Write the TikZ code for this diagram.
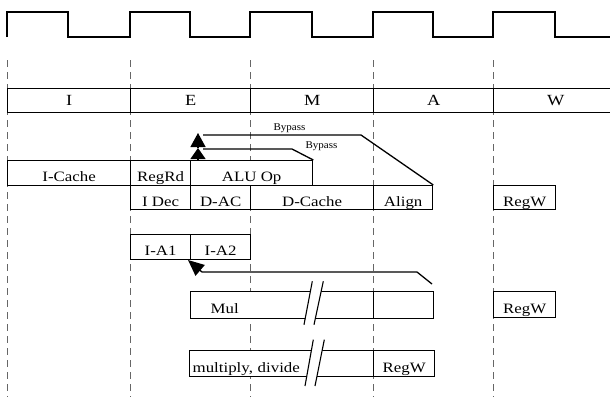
\documentclass[tikz,border=0pt]{standalone}
\usepackage{fontspec}
\setmainfont{Liberation Serif}
\newfontfamily\boxfont[FakeStretch=1.18]{Liberation Serif}
\newfontfamily\smallfont[FakeStretch=1.07]{Liberation Serif}
\usetikzlibrary{arrows.meta}
\begin{document}
\begin{tikzpicture}[x=1pt,y=-1pt,line width=1.3pt,
  guide/.style={draw=black!60,line width=0.9pt,dash pattern=on 7pt off 5pt},
  stage/.style={draw,fill=white,minimum height=24pt,inner sep=0pt,anchor=north west,
    font={\boxfont\fontsize{15.5}{17}\selectfont}},
  cell/.style={draw,fill=white,minimum height=25pt,inner sep=0pt,anchor=north west,
    font={\boxfont\fontsize{14.3}{16}\selectfont},text height=17pt,text depth=0pt},
  bytext/.style={font={\smallfont\fontsize{10.3}{12}\selectfont},inner sep=0pt,anchor=base},
  tip/.style={-{Triangle[length=#1,width=15pt]}},
  brk/.style={line width=1.1pt}]
\useasboundingbox (0,0) rectangle (610,397);
% clock
\draw (7,37) -- (7,12) -- (68,12) -- (68,37) -- (130,37) -- (130,12) -- (190,12) -- (190,37)
  -- (250,37) -- (250,12) -- (312,12) -- (312,37) -- (373,37) -- (373,12) -- (433,12) -- (433,37)
  -- (493,37) -- (493,12) -- (555,12) -- (555,37) -- (614,37);
% guide lines
\foreach \x in {7,130,250,373,493} \draw[guide] (\x,60) -- (\x,397);
% stages
\node[stage,minimum width=123pt] (sI) at (7,88) {I};
\node[stage,minimum width=120pt] (sE) at (130,88) {E};
\node[stage,minimum width=123pt] (sM) at (250,88) {M};
\node[stage,minimum width=120pt] (sA) at (373,88) {A};
\node[stage,minimum width=124pt] (sW) at (493,88) {W};
% row 1
\node[cell,minimum width=123pt] (icache) at (7,160) {I-Cache};
\node[cell,minimum width=60pt] (regrd) at (130,160) {RegRd};
\node[cell,minimum width=122pt] (alu) at (190,160) {ALU Op};
% row 2
\node[cell,minimum width=60pt,minimum height=24pt] (idec) at (130,185) {I Dec};
\node[cell,minimum width=60pt,minimum height=24pt] (dac) at (190,185) {D-AC};
\node[cell,minimum width=123pt,minimum height=24pt] (dcache) at (250,185) {D-Cache};
\node[cell,minimum width=59pt,minimum height=24pt] (align) at (373,185) {Align};
\node[cell,minimum width=62pt,minimum height=24pt] (regwa) at (493,185) {RegW};
% row 3
\node[cell,minimum width=60pt] (ia1) at (130,234) {I-A1};
\node[cell,minimum width=60pt] (ia2) at (190,234) {I-A2};
% row 4
\node[cell,minimum width=183pt,minimum height=27pt,inner xsep=20pt,text width=143pt,align=left] (mul) at (190,291) {Mul};
\node[cell,minimum width=60pt,minimum height=27pt] (mulend) at (373,291) {};
\node[cell,minimum width=62pt,minimum height=26pt] (regwb) at (493,291) {RegW};
% row 5
\node[cell,minimum width=184pt,minimum height=26pt,inner xsep=3pt,text width=178pt,align=left] (mdiv) at (189,350) {multiply, divide};
\node[cell,minimum width=61pt,minimum height=26pt] (regwc) at (373,350) {RegW};
% breaks
\fill[white] (312.3,281.3) -- (323.3,281.3) -- (314,324.7) -- (304,324.7) -- cycle;
\draw[brk] (312.3,281.3) -- (304,324.7) (323.3,281.3) -- (314,324.7);
\fill[white] (313.3,339.7) -- (324.3,339.7) -- (315,386) -- (305,386) -- cycle;
\draw[brk] (313.3,339.7) -- (305,386) (324.3,339.7) -- (315,386);
% bypass outer
\coordinate (b1k) at (361,135);
\coordinate (b1e) at (203,135);
\coordinate (b1t) at (198,133);
\draw (align.north east) -- (b1k) -- (b1e);
\draw[tip=14pt] (198,147) -- (b1t);
\node[bytext] (by1) at (289.5,130) {Bypass};
% bypass inner
\coordinate (b2k) at (292,149);
\coordinate (b2e) at (203,149);
\coordinate (b2t) at (198,148);
\draw (alu.north east) -- (b2k) -- (b2e);
\draw[tip=11pt] (198,159.5) -- (b2t);
\node[bytext] (by2) at (321.5,148) {Bypass};
% return to I-A2
\coordinate (r0) at (432,284);
\coordinate (r1) at (417,272);
\coordinate (r2) at (202,272);
\coordinate (rt) at (188,260);
\draw[-{Triangle[length=16pt,width=14pt]}] (r0) -- (r1) -- (r2) -- (rt);
\end{tikzpicture}
\end{document}
